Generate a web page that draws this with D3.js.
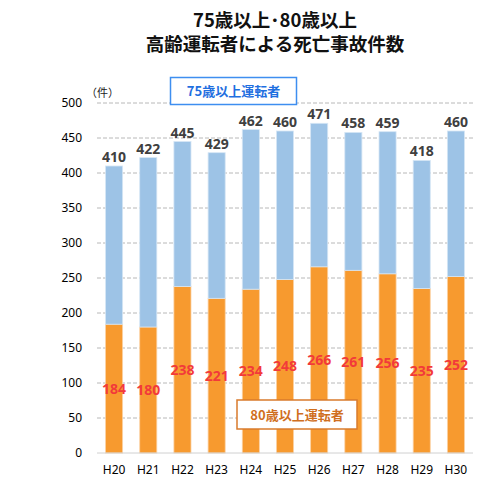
<!DOCTYPE html>
<html><head><meta charset="utf-8">
<script src="https://cdn.jsdelivr.net/npm/d3@7"></script>
<style>
html,body{margin:0;padding:0;background:#fff;}
svg{display:block;font-family:"Noto Sans CJK JP","Noto Sans",sans-serif;}
</style></head>
<body>
<svg id="chart" width="481" height="494"></svg>
<script>
const years = ["H20","H21","H22","H23","H24","H25","H26","H27","H28","H29","H30"];
const totals75 = [410,422,445,429,462,460,471,458,459,418,460];
const over80 = [184,180,238,221,234,248,266,261,256,235,252];
const yTicks = [0,50,100,150,200,250,300,350,400,450,500];
const titleLines = ["75歳以上･80歳以上","高齢運転者による死亡事故件数"];
const legend75 = "75歳以上運転者";
const legend80 = "80歳以上運転者";
const unitLabel = "（件）";

const svg = d3.select("#chart");
const m = {left:97, right:8, top:103, bottom:41};
const W = 481, H = 494;
const x = d3.scaleBand().domain(years).range([m.left, W - m.right]).paddingInner(0.5).paddingOuter(0.25);
const y = d3.scaleLinear().domain([0,500]).range([H - m.bottom, m.top]);

// title (one text element, two lines)
const title = svg.append("text").attr("text-anchor","middle").attr("font-size",18.5)
  .attr("font-weight","bold").attr("fill","#111");
title.selectAll("tspan").data(titleLines).join("tspan")
  .attr("x", 275).attr("y", (d,i)=> 26.5 + i*24).text(d=>d);

// gridlines
svg.append("g").selectAll("line").data(yTicks.filter(d=>d>0)).join("line")
  .attr("x1", m.left).attr("x2", W - m.right)
  .attr("y1", d=>y(d)).attr("y2", d=>y(d))
  .attr("stroke","#b8b8b8").attr("stroke-width",1).attr("stroke-dasharray","4,2");

// y axis
const yAxis = d3.axisLeft(y).tickValues(yTicks).tickSize(0).tickPadding(0);
const ya = svg.append("g").attr("transform",`translate(${m.left-15},0)`).call(yAxis);
ya.select(".domain").remove();
ya.selectAll("text").attr("font-size",12).attr("fill","#000").attr("font-family","'Noto Sans','Noto Sans CJK JP',sans-serif");

// bars
const g = svg.append("g");
g.selectAll("rect.o").data(years).join("rect").attr("class","o")
  .attr("x", d=>x(d)).attr("width", x.bandwidth())
  .attr("y", (d,i)=>y(over80[i])).attr("height",(d,i)=>y(0)-y(over80[i]))
  .attr("fill","#F79A2F").attr("stroke","#FBD3A6").attr("stroke-width",0.8);
g.selectAll("rect.b").data(years).join("rect").attr("class","b")
  .attr("x", d=>x(d)).attr("width", x.bandwidth())
  .attr("y", (d,i)=>y(totals75[i])).attr("height",(d,i)=>y(over80[i])-y(totals75[i]))
  .attr("fill","#9DC3E6").attr("stroke","#D6E6F5").attr("stroke-width",0.8);

// baseline
svg.append("line").attr("x1", m.left).attr("x2", W - m.right)
  .attr("y1", y(0)).attr("y2", y(0)).attr("stroke","#d0d0d0").attr("stroke-width",1);

// x axis
const xAxis = d3.axisBottom(x).tickSize(0).tickPadding(0);
const xa = svg.append("g").attr("transform",`translate(0,${y(0)+12})`).call(xAxis);
xa.select(".domain").remove();
xa.selectAll("text").attr("font-size",12).attr("fill","#000").attr("font-family","'Noto Sans','Noto Sans CJK JP',sans-serif");

// labels
g.selectAll("text.t").data(years).join("text").attr("class","t")
  .attr("x", d=>x(d)+x.bandwidth()/2).attr("y",(d,i)=>y(totals75[i])-4)
  .attr("text-anchor","middle").attr("font-size",14).attr("font-weight","bold").attr("fill","#404040")
  .attr("font-family","'Open Sans','Noto Sans',sans-serif")
  .text((d,i)=>totals75[i]);
g.selectAll("text.v").data(years).join("text").attr("class","v")
  .attr("x", d=>x(d)+x.bandwidth()/2).attr("y",(d,i)=>y(over80[i]/2)+5)
  .attr("text-anchor","middle").attr("font-size",14).attr("font-weight","bold").attr("fill","#F23A3A")
  .attr("font-family","'Open Sans','Noto Sans',sans-serif")
  .text((d,i)=>over80[i]);

// unit label
svg.append("text").attr("x",86).attr("y",97).attr("font-size",11).attr("fill","#222").text(unitLabel);

// legend boxes
function legendBox(cx, cy, w, h, txt, stroke, color){
  svg.append("rect").attr("x",cx-w/2).attr("y",cy-h/2).attr("width",w).attr("height",h)
    .attr("fill","#fff").attr("stroke",stroke).attr("stroke-width",1.5);
  svg.append("text").attr("x",cx).attr("y",cy+5).attr("text-anchor","middle")
    .attr("font-size",13).attr("font-weight","bold").attr("fill",color).text(txt);
}
legendBox(233.5, 91, 126, 27, legend75, "#3E8EF0", "#1F6FE0");
legendBox(297, 414.5, 120, 29, legend80, "#D97B2C", "#D06F1E");
</script>
</body></html>
